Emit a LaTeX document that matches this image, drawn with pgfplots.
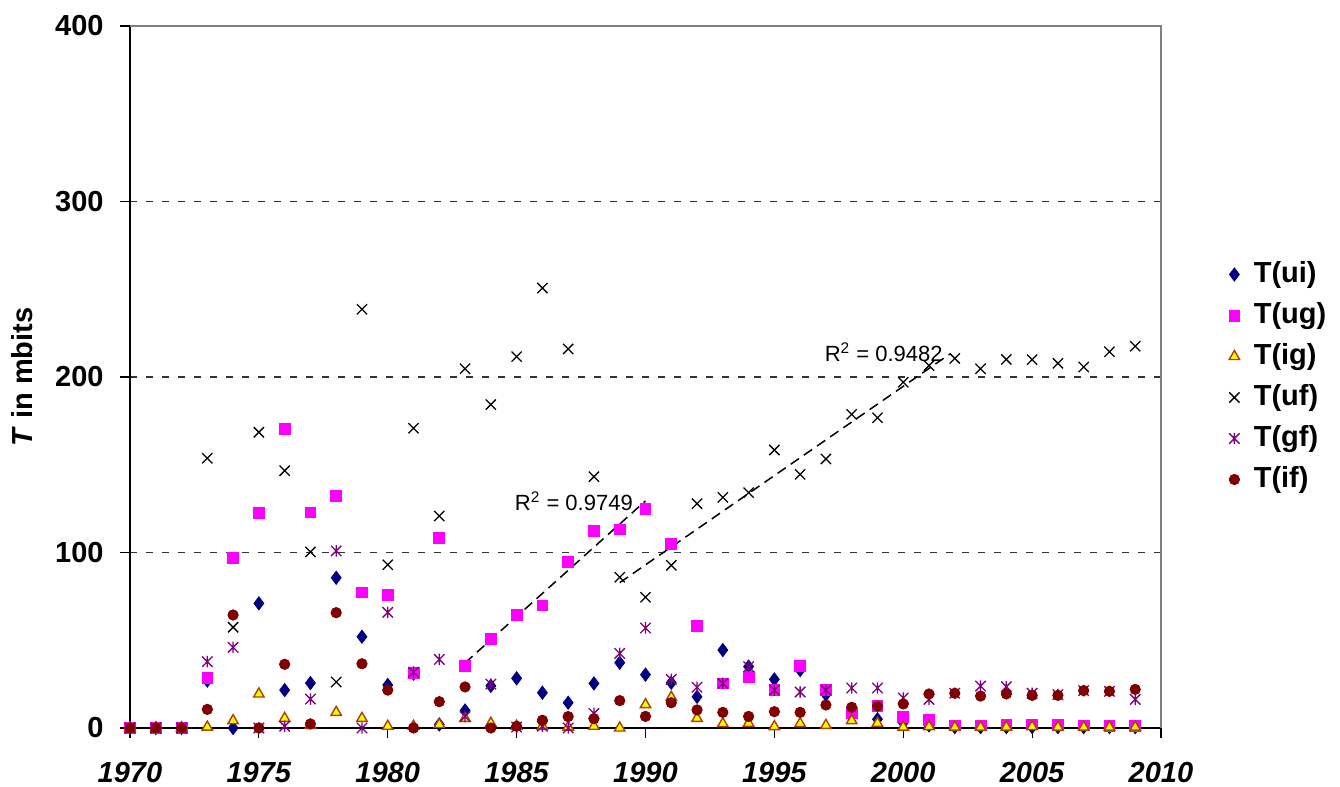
\documentclass[border=0pt]{standalone}
\usepackage{fontspec}
\setmainfont{Liberation Sans}
\usepackage{pgfplots}
\pgfplotsset{compat=1.18}
\usepackage{pgfplotstable}
\definecolor{cui}{HTML}{000080}
\definecolor{cug}{HTML}{FF00FF}
\definecolor{cigf}{HTML}{FFFF00}
\definecolor{cigd}{HTML}{B04000}
\definecolor{cgf}{HTML}{800080}
\definecolor{cif}{HTML}{800000}
\definecolor{bord}{HTML}{808080}
\newcommand\bigf{\fontsize{14.5}{17.4}\selectfont}
\pgfdeclareplotmark{xstar}{%
  \pgfpathmoveto{\pgfqpoint{-\pgfplotmarksize}{-\pgfplotmarksize}}%
  \pgfpathlineto{\pgfqpoint{\pgfplotmarksize}{\pgfplotmarksize}}%
  \pgfpathmoveto{\pgfqpoint{-\pgfplotmarksize}{\pgfplotmarksize}}%
  \pgfpathlineto{\pgfqpoint{\pgfplotmarksize}{-\pgfplotmarksize}}%
  \pgfpathmoveto{\pgfqpoint{0pt}{-1.1\pgfplotmarksize}}%
  \pgfpathlineto{\pgfqpoint{0pt}{1.1\pgfplotmarksize}}%
  \pgfusepathqstroke}
\pgfplotstableread{
year ui ug ig uf gf tif
1970 0 0 0 0 0 0
1971 0 0 0 0 0 0
1972 0 0 0 0 0 0
1973 27 28.7 0.5 153.7 37.8 10.6
1974 0 96.7 4.2 57.4 46 64.4
1975 71 122.5 19.4 168.5 0 0
1976 21.6 170.2 5.5 146.6 1 36.3
1977 25.6 122.9 1.5 100.3 16.5 2.3
1978 85.6 132.2 8.9 26.2 100.9 65.7
1979 52 77.3 5.5 238.6 0 36.6
1980 24.5 76 1 93 65.9 21.6
1981 31 31.5 1 170.8 31.8 0
1982 2 108.5 2 120.8 39.1 15
1983 10 35.3 5.5 204.7 6.5 23.4
1984 24 50.9 2.7 184.3 25 0
1985 28.3 64.6 1 211.6 0.5 1
1986 20.1 69.9 1 250.7 1 4.4
1987 14.4 94.6 0.5 216 0 6.5
1988 25.4 112.4 1 143.2 8.3 5.3
1989 37.2 113.2 0 85.9 42.5 15.6
1990 30.4 125 13.3 74.5 57 6.6
1991 25.8 104.8 17.5 92.7 27.7 14.4
1992 17.8 58.1 5.5 127.8 23.2 10.3
1993 44.4 25.4 2.5 131.4 25.4 8.9
1994 35 28.9 2.7 134.1 35 6.6
1995 27.7 21.6 0.8 158.4 21.6 9.3
1996 33 35.2 2.5 144.5 20.5 8.9
1997 19 21.6 1.5 153.3 21.6 13.1
1998 8.8 8.8 4.2 178.7 22.8 11.8
1999 5 12.5 2.7 176.8 22.8 12.5
2000 3 6.5 0.5 197 17.1 13.7
2001 1.5 4.6 0.8 206.5 16.3 19.4
2002 0.5 1.5 0.5 210.6 19.8 19.8
2003 0.5 1.5 0.5 204.7 23.9 18.2
2004 0.5 1.7 0.5 210 23.5 19.4
2005 0.5 2 0.8 209.9 19.8 18.6
2006 0.5 1.7 0.5 207.8 19 18.6
2007 0.5 1.5 0.5 205.7 21.3 21.3
2008 0.5 1.2 0.5 214.4 20.9 20.9
2009 0.5 1.2 0.5 217.5 16.3 22
}\data
\begin{document}
\begin{tikzpicture}
\begin{axis}[name=ax,
  scale only axis, width=515.5pt, height=351pt,
  xmin=1970, xmax=2010, ymin=0, ymax=400,
  clip=false,
  axis lines=left, axis line style={-, black, line width=0.7pt},
  xtick={1970,1975,...,2010}, ytick={0,100,...,400},
  tick align=outside, major tick length=5pt,
  tick style={black, line width=0.6pt},
  ymajorgrids, grid style={dash pattern=on 3.5pt off 4.5pt, black!80, line width=0.55pt},
  /pgf/number format/assume math mode=true,
  /pgf/number format/set thousands separator={},
  yticklabel style={font=\bigf\bfseries, inner sep=0pt, anchor=east, xshift=-8pt},
  xticklabel style={font=\bigf\bfseries\itshape, inner sep=0pt, anchor=north, yshift=-12pt},
  ylabel={\textit{T} in mbits},
  every axis y label/.style={at={(rel axis cs:0,0.5)}, xshift=-54pt, rotate=90, anchor=center, font=\bigf\bfseries},
  legend style={at={(rel axis cs:1,0.5)}, anchor=west, xshift=34pt, draw=none, fill=none,
    font=\bigf\bfseries, inner sep=0pt, outer sep=0pt, row sep=7pt,
    nodes={inner sep=0pt, text height=10.5pt, text depth=3pt}},
  legend cell align=left,
  mk/.style={only marks, legend image code/.code={\draw[##1] plot coordinates {(0pt,0pt)};}},
]
\draw[bord, line width=0.65pt] (rel axis cs:0,1) -- (rel axis cs:1,1) -- (rel axis cs:1,0);
\addplot[mk, mark=diamond*, mark size=3.3pt, color=cui] table[x=year,y=ui] {\data};
\addlegendentry{\hspace{7pt}T(ui)}
\addplot[mk, mark=square*, mark size=2.7pt, color=cug] table[x=year,y=ug] {\data};
\addlegendentry{\hspace{7pt}T(ug)}
\addplot[mk, mark=triangle*, mark size=3pt, draw=cigd, fill=cigf, line width=0.7pt] table[x=year,y=ig] {\data};
\addlegendentry{\hspace{7pt}T(ig)}
\addplot[mk, mark=x, mark size=3.6pt, color=black, line width=0.65pt] table[x=year,y=uf] {\data};
\addlegendentry{\hspace{7pt}T(uf)}
\addplot[mk, mark=xstar, mark size=2.6pt, color=cgf, line width=0.65pt] table[x=year,y=gf] {\data};
\addlegendentry{\hspace{7pt}T(gf)}
\addplot[mk, mark=*, mark size=2.6pt, color=cif] table[x=year,y=tif] {\data};
\addlegendentry{\hspace{7pt}T(if)}
\addplot[forget plot, black, line width=0.75pt, dash pattern=on 5pt off 3pt] coordinates {(1983,37.1) (1990,129.4)};
\addplot[forget plot, black, line width=0.75pt, dash pattern=on 5pt off 3pt] coordinates {(1989,82.8) (2001.8,213)};
\node[anchor=base west, font=\fontsize{11}{13}\selectfont, inner sep=0pt] at (axis cs:1984.92,123.8) {R\textsuperscript{2} = 0.9749};
\node[anchor=base west, font=\fontsize{11}{13}\selectfont, inner sep=0pt] at (axis cs:1996.94,208.7) {R\textsuperscript{2} = 0.9482};
\end{axis}
\pgfresetboundingbox
\useasboundingbox (ax.south west) ++(-65pt,-29.5pt) rectangle ++(670pt,393.5pt);
\end{tikzpicture}
\end{document}
